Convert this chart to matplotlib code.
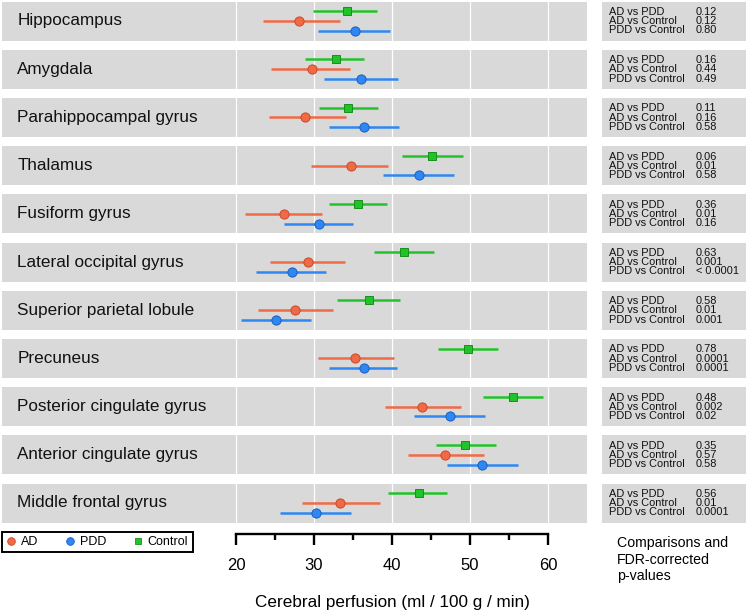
import matplotlib
matplotlib.use("Agg")
import matplotlib.pyplot as plt
from matplotlib.lines import Line2D
from matplotlib.ticker import MultipleLocator

plt.rcParams['font.family'] = ['Liberation Sans', 'DejaVu Sans']

regions = ["Hippocampus", "Amygdala", "Parahippocampal gyrus", "Thalamus",
           "Fusiform gyrus", "Lateral occipital gyrus", "Superior parietal lobule",
           "Precuneus", "Posterior cingulate gyrus", "Anterior cingulate gyrus",
           "Middle frontal gyrus"]

ad_mean = [28.1, 29.7, 28.8, 34.7, 26.1, 29.2, 27.6, 35.2, 43.9, 46.8, 33.3]
ad_lo = [23.4, 24.5, 24.2, 29.6, 21.2, 24.3, 22.8, 30.5, 39.1, 42.0, 28.5]
ad_hi = [33.3, 34.6, 34.1, 39.5, 31.0, 34.0, 32.4, 40.2, 48.8, 51.8, 38.5]

pdd_mean = [35.3, 36.0, 36.4, 43.5, 30.6, 27.2, 25.1, 36.4, 47.4, 51.6, 30.2]
pdd_lo = [30.5, 31.3, 31.9, 38.8, 26.2, 22.6, 20.7, 31.9, 42.8, 47.1, 25.7]
pdd_hi = [39.7, 40.8, 40.9, 47.9, 35.0, 31.6, 29.6, 40.7, 51.9, 56.2, 34.7]

ctrl_mean = [34.2, 32.8, 34.4, 45.1, 35.7, 41.5, 37.0, 49.8, 55.5, 49.3, 43.4]
ctrl_lo = [29.9, 28.8, 30.6, 41.3, 31.9, 37.7, 33.0, 45.9, 51.7, 45.6, 39.5]
ctrl_hi = [38.1, 36.4, 38.2, 49.1, 39.4, 45.4, 41.0, 53.6, 59.3, 53.3, 47.1]

comparisons = ["AD vs PDD", "AD vs Control", "PDD vs Control"]
p_ad_pdd = ["0.12", "0.16", "0.11", "0.06", "0.36", "0.63", "0.58", "0.78", "0.48", "0.35", "0.56"]
p_ad_ctrl = ["0.12", "0.44", "0.16", "0.01", "0.01", "0.001", "0.01", "0.0001", "0.002", "0.57", "0.01"]
p_pdd_ctrl = ["0.80", "0.49", "0.58", "0.58", "0.16", "< 0.0001", "0.001", "0.0001", "0.02", "0.58", "0.0001"]

grid_ticks = [20, 30, 40, 50, 60]
minor_ticks = [25, 35, 45, 55]
group_labels = ["AD", "PDD", "Control"]

C_AD = "#F06A45"
C_AD_E = "#C9482A"
C_PDD = "#2E87F2"
C_PDD_E = "#1C5DBE"
C_CTRL = "#22C32A"
C_CTRL_E = "#17901B"
PANEL = "#D9D9D9"

W, H = 748, 613
fig = plt.figure(figsize=(W / 100, H / 100), dpi=100)
fig.patch.set_facecolor("white")

XMIN, XMAX = -10.0, 65.0
LX0, LX1 = 2, 587
RX0, RX1 = 602, 746
pitch = 48.2
ph = 39.0


def fpos(x0, x1, top, h):
    return [x0 / W, 1 - (top + h) / H, (x1 - x0) / W, h / H]


series = [
    (ctrl_mean, ctrl_lo, ctrl_hi, 1.0, C_CTRL, C_CTRL_E, "s", 6.0),
    (ad_mean, ad_lo, ad_hi, 0.0, C_AD, C_AD_E, "o", 6.6),
    (pdd_mean, pdd_lo, pdd_hi, -1.0, C_PDD, C_PDD_E, "o", 6.6),
]

for i, name in enumerate(regions):
    top = 1.5 + pitch * i
    ax = fig.add_axes(fpos(LX0, LX1, top, ph))
    ax.set_facecolor(PANEL)
    ax.set_xlim(XMIN, XMAX)
    ax.set_ylim(-2, 2)
    for g in grid_ticks:
        ax.axvline(g, color="white", lw=0.9, zorder=1)
    for mean, lo, hi, yy, c, ce, mk, ms in series:
        ax.hlines(yy, lo[i], hi[i], color=c, lw=1.8, zorder=2)
        ax.plot([mean[i]], [yy], marker=mk, ms=ms, color=c, mec=ce, mew=0.7,
                zorder=3, linestyle="none")
    ax.text(0.026, 0.5, name, transform=ax.transAxes, ha="left", va="center",
            fontsize=12.3, color="#111111")
    ax.set_xticks([])
    ax.set_yticks([])
    for s in ax.spines.values():
        s.set_visible(False)

    axr = fig.add_axes(fpos(RX0, RX1, top, ph))
    axr.set_facecolor(PANEL)
    axr.set_xlim(0, 1)
    axr.set_ylim(0, 1)
    axr.set_xticks([])
    axr.set_yticks([])
    for s in axr.spines.values():
        s.set_visible(False)
    vals = [p_ad_pdd[i], p_ad_ctrl[i], p_pdd_ctrl[i]]
    for k, (lab, v) in enumerate(zip(comparisons, vals)):
        yf = 1 - (10.5 + 9.2 * k) / ph
        axr.text(7 / 144, yf, lab, ha="left", va="center", fontsize=7.9, color="#111111")
        axr.text(94 / 144, yf, v, ha="left", va="center", fontsize=7.9, color="#111111")

# x axis
axb = fig.add_axes([LX0 / W, 1 - 534 / H, (LX1 - LX0) / W, 1 / H])
axb.set_xlim(XMIN, XMAX)
axb.patch.set_visible(False)
for s in ["top", "left", "right"]:
    axb.spines[s].set_visible(False)
axb.spines["bottom"].set_bounds(20, 60)
axb.spines["bottom"].set_linewidth(1.7)
axb.set_yticks([])
axb.set_xticks(grid_ticks)
axb.set_xticklabels([str(t) for t in grid_ticks])
axb.set_xticks(minor_ticks, minor=True)
axb.tick_params(axis="x", which="major", direction="out", length=8, width=1.7,
                labelsize=12, pad=9)
axb.tick_params(axis="x", which="minor", direction="out", length=4.3, width=1.7)

fig.text(392 / W, 1 - 602 / H, "Cerebral perfusion (ml / 100 g / min)",
         ha="center", va="center", fontsize=12.3)

for k, line in enumerate(["Comparisons and", "FDR-corrected", "p-values"]):
    fig.text(617 / W, 1 - (543 + 16.7 * k) / H, line, ha="left", va="center",
             fontsize=10.2)

handles = [
    Line2D([], [], marker="o", color=C_AD, mec=C_AD_E, mew=0.6, ms=5.5, linestyle="none"),
    Line2D([], [], marker="o", color=C_PDD, mec=C_PDD_E, mew=0.6, ms=5.5, linestyle="none"),
    Line2D([], [], marker="s", color=C_CTRL, mec=C_CTRL_E, mew=0.6, ms=5.0, linestyle="none"),
]
leg = fig.legend(handles, group_labels, loc="center left",
                 bbox_to_anchor=(2 / W, 1 - 542 / H), ncol=3, fontsize=9,
                 frameon=True, fancybox=False, edgecolor="black", framealpha=1,
                 handlelength=0.8, handletextpad=0.4, columnspacing=2.1,
                 borderpad=0.35, borderaxespad=0)
leg.get_frame().set_linewidth(1.4)

fig.savefig("out.png", dpi=100, facecolor="white")
